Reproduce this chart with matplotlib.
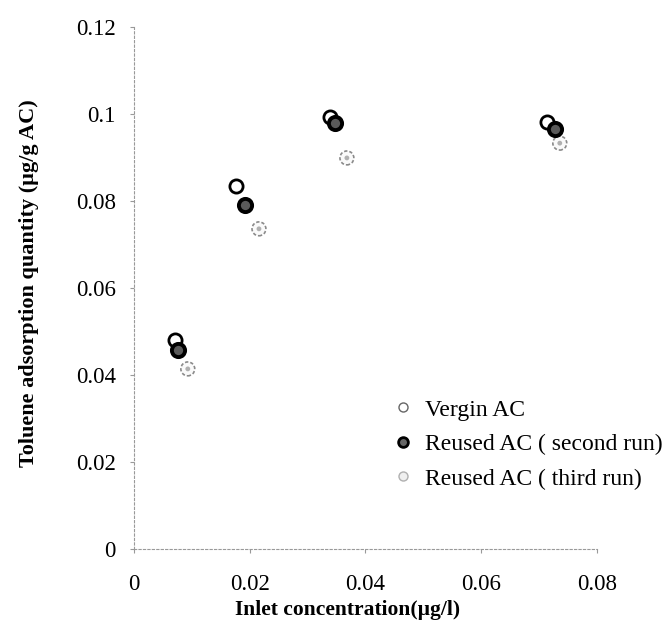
import matplotlib
matplotlib.use("Agg")
import matplotlib.pyplot as plt
from matplotlib.lines import Line2D

plt.rcParams['font.family'] = ['Liberation Serif', 'DejaVu Serif']

x_vergin = [0.0071, 0.0176, 0.0339, 0.0714]
y_vergin = [0.0480, 0.0834, 0.0993, 0.0982]
x_second = [0.0076, 0.0192, 0.0347, 0.0727]
y_second = [0.0457, 0.0791, 0.0979, 0.0966]
x_third = [0.0093, 0.0216, 0.0368, 0.0736]
y_third = [0.0414, 0.0736, 0.0899, 0.0933]

labels = ["Vergin AC", "Reused AC ( second run)", "Reused AC ( third run)"]
xticks = [0, 0.02, 0.04, 0.06, 0.08]
xticklabels = ["0", "0.02", "0.04", "0.06", "0.08"]
yticks = [0, 0.02, 0.04, 0.06, 0.08, 0.1, 0.12]
yticklabels = ["0", "0.02", "0.04", "0.06", "0.08", "0.1", "0.12"]

fig = plt.figure(figsize=(6.64, 6.21), dpi=100)
ax = fig.add_axes([0.2018, 0.116, 0.697, 0.8405])

ax.scatter(x_third, y_third, s=100, facecolor='#fafafa', edgecolor='#8a8a8a',
           linewidths=1.2, linestyles=(0, (2, 1.2)), zorder=2)
ax.scatter(x_third, y_third, s=12, facecolor='#b0b0b0', edgecolor='none', zorder=2)
ax.plot(x_vergin, y_vergin, 'o', ms=9.5, mfc='white', mec='black', mew=2.0, zorder=3)
ax.plot(x_second, y_second, 'o', ms=9.5, mfc='#5a5a5a', mec='black', mew=2.8, zorder=4)

ax.set_xlim(0, 0.08)
ax.set_ylim(0, 0.12)
ax.set_xticks(xticks)
ax.set_xticklabels(xticklabels)
ax.set_yticks(yticks)
ax.set_yticklabels(yticklabels)
ax.tick_params(labelsize=16.5, length=3, color='#999999')
ax.tick_params(axis='x', pad=15)
ax.tick_params(axis='y', pad=10)

for s in ['top', 'right']:
    ax.spines[s].set_visible(False)
for s in ['left', 'bottom']:
    ax.spines[s].set_linestyle((0, (2, 2)))
    ax.spines[s].set_color('#999999')
    ax.spines[s].set_linewidth(0.8)

ax.set_xlabel("Inlet concentration(µg/l)", fontsize=15.5, fontweight='bold')
ax.xaxis.set_label_coords(0.462, -0.097)
ax.set_ylabel("Toluene adsorption quantity (µg/g AC)", fontsize=16, fontweight='bold')
ax.yaxis.set_label_coords(-0.205, 0.51)

handles = [
    Line2D([], [], ls='none', marker='o', ms=6.5, mfc='white', mec='#666666', mew=1.0),
    Line2D([], [], ls='none', marker='o', ms=7, mfc='#666666', mec='black', mew=2.0),
    Line2D([], [], ls='none', marker='o', ms=6.5, mfc='#f0f0f0', mec='#b0b0b0', mew=1.0),
]
leg = fig.legend(handles, labels, loc='upper left', bbox_to_anchor=(391 / 664, 1 - 399 / 621),
                 frameon=False, fontsize=17, borderpad=0, borderaxespad=0,
                 handlelength=1, handletextpad=0.42, labelspacing=0.55)

fig.savefig("out.png", dpi=100)
